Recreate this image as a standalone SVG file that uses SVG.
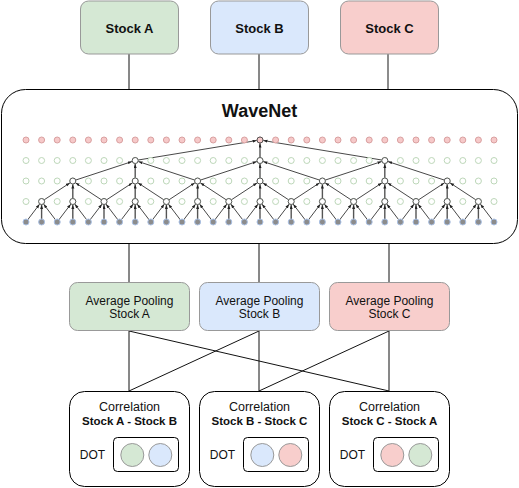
<svg xmlns="http://www.w3.org/2000/svg" xmlns:xlink="http://www.w3.org/1999/xlink" width="519" height="488" viewBox="0 0 519 488">
<style>
text{font-family:"Liberation Sans",Arial,Helvetica,sans-serif;fill:#111;text-anchor:middle}
.b{font-weight:bold}
.box{stroke:#999;stroke-width:1}
.ga{fill:#d5e8d4}.gb{fill:#dae8fc}.gc{fill:#f8cecc}
.frame{fill:#fff;stroke:#000;stroke-width:1}
.conn line{stroke:#111;stroke-width:1}
.e line{stroke:#333;stroke-width:0.9;marker-end:url(#ah)}
.e line.v{stroke:#555;stroke-width:1.4}
.inp{fill:#8c8c8c;stroke:#a9c0e4;stroke-width:1}
.hid{fill:#fff;stroke:#bdd7b9;stroke-width:1}
.out{fill:#f6c9c9;stroke:#d9a0a0;stroke-width:1}
.hl{fill:#fff;stroke:#555;stroke-width:1}
.dc{stroke:#999;stroke-width:1}
</style>
<defs>
<marker id="ah" markerUnits="userSpaceOnUse" markerWidth="8" markerHeight="4" refX="7.5" refY="1.5" orient="auto">
<path d="M0,0 L4,1.5 L0,3 z" fill="#222"/>
</marker>
<g id="row">
<circle cx="26" cy="0" r="3"/><circle cx="41.6" cy="0" r="3"/><circle cx="57.2" cy="0" r="3"/><circle cx="72.8" cy="0" r="3"/><circle cx="88.4" cy="0" r="3"/><circle cx="104" cy="0" r="3"/><circle cx="119.6" cy="0" r="3"/><circle cx="135.2" cy="0" r="3"/><circle cx="150.8" cy="0" r="3"/><circle cx="166.4" cy="0" r="3"/><circle cx="182" cy="0" r="3"/><circle cx="197.6" cy="0" r="3"/><circle cx="213.2" cy="0" r="3"/><circle cx="228.8" cy="0" r="3"/><circle cx="244.4" cy="0" r="3"/><circle cx="260" cy="0" r="3"/><circle cx="275.6" cy="0" r="3"/><circle cx="291.2" cy="0" r="3"/><circle cx="306.8" cy="0" r="3"/><circle cx="322.4" cy="0" r="3"/><circle cx="338" cy="0" r="3"/><circle cx="353.6" cy="0" r="3"/><circle cx="369.2" cy="0" r="3"/><circle cx="384.8" cy="0" r="3"/><circle cx="400.4" cy="0" r="3"/><circle cx="416" cy="0" r="3"/><circle cx="431.6" cy="0" r="3"/><circle cx="447.2" cy="0" r="3"/><circle cx="462.8" cy="0" r="3"/><circle cx="478.4" cy="0" r="3"/><circle cx="494" cy="0" r="3"/>
</g>
</defs>

<g id="connectors" class="conn">
<line x1="129" y1="54" x2="129" y2="89"/>
<line x1="259" y1="54" x2="259" y2="89"/>
<line x1="388" y1="54" x2="388" y2="89" style="stroke:#666;stroke-width:1.5"/>
<line x1="129" y1="244" x2="129" y2="282"/>
<line x1="259" y1="244" x2="259" y2="282"/>
<line x1="389" y1="244" x2="389" y2="282"/>
<line x1="129" y1="331" x2="129" y2="391"/>
<line x1="259" y1="331" x2="259" y2="391"/>
<line x1="389" y1="331" x2="389" y2="391"/>
<line x1="129" y1="331" x2="389" y2="391"/>
<line x1="259" y1="331" x2="129" y2="391"/>
<line x1="389" y1="331" x2="259" y2="391"/>
</g>

<g id="stock-a"><rect class="box ga" x="80.5" y="1" width="98" height="53" rx="8"/><text class="b" x="129.5" y="33" font-size="13">Stock A</text></g>
<g id="stock-b"><rect class="box gb" x="210.5" y="1" width="98" height="53" rx="8"/><text class="b" x="259.5" y="33" font-size="13">Stock B</text></g>
<g id="stock-c"><rect class="box gc" x="340.5" y="1" width="98" height="53" rx="8"/><text class="b" x="389.5" y="33" font-size="13">Stock C</text></g>

<g id="wavenet">
<rect class="frame" x="1.5" y="89.5" width="516" height="154" rx="24"/>
<text class="b" x="259.5" y="116.5" font-size="18">WaveNet</text>
<g class="e">
<line x1="26" y1="222" x2="41.6" y2="201.5"/><line class="v" x1="41.6" y1="222" x2="41.6" y2="201.5"/><line x1="57.2" y1="222" x2="41.6" y2="201.5"/>
<line x1="57.2" y1="222" x2="72.8" y2="201.5"/><line class="v" x1="72.8" y1="222" x2="72.8" y2="201.5"/><line x1="88.4" y1="222" x2="72.8" y2="201.5"/>
<line x1="88.4" y1="222" x2="104" y2="201.5"/><line class="v" x1="104" y1="222" x2="104" y2="201.5"/><line x1="119.6" y1="222" x2="104" y2="201.5"/>
<line x1="119.6" y1="222" x2="135.2" y2="201.5"/><line class="v" x1="135.2" y1="222" x2="135.2" y2="201.5"/><line x1="150.8" y1="222" x2="135.2" y2="201.5"/>
<line x1="150.8" y1="222" x2="166.4" y2="201.5"/><line class="v" x1="166.4" y1="222" x2="166.4" y2="201.5"/><line x1="182" y1="222" x2="166.4" y2="201.5"/>
<line x1="182" y1="222" x2="197.6" y2="201.5"/><line class="v" x1="197.6" y1="222" x2="197.6" y2="201.5"/><line x1="213.2" y1="222" x2="197.6" y2="201.5"/>
<line x1="213.2" y1="222" x2="228.8" y2="201.5"/><line class="v" x1="228.8" y1="222" x2="228.8" y2="201.5"/><line x1="244.4" y1="222" x2="228.8" y2="201.5"/>
<line x1="244.4" y1="222" x2="260" y2="201.5"/><line class="v" x1="260" y1="222" x2="260" y2="201.5"/><line x1="275.6" y1="222" x2="260" y2="201.5"/>
<line x1="275.6" y1="222" x2="291.2" y2="201.5"/><line class="v" x1="291.2" y1="222" x2="291.2" y2="201.5"/><line x1="306.8" y1="222" x2="291.2" y2="201.5"/>
<line x1="306.8" y1="222" x2="322.4" y2="201.5"/><line class="v" x1="322.4" y1="222" x2="322.4" y2="201.5"/><line x1="338" y1="222" x2="322.4" y2="201.5"/>
<line x1="338" y1="222" x2="353.6" y2="201.5"/><line class="v" x1="353.6" y1="222" x2="353.6" y2="201.5"/><line x1="369.2" y1="222" x2="353.6" y2="201.5"/>
<line x1="369.2" y1="222" x2="384.8" y2="201.5"/><line class="v" x1="384.8" y1="222" x2="384.8" y2="201.5"/><line x1="400.4" y1="222" x2="384.8" y2="201.5"/>
<line x1="400.4" y1="222" x2="416" y2="201.5"/><line class="v" x1="416" y1="222" x2="416" y2="201.5"/><line x1="431.6" y1="222" x2="416" y2="201.5"/>
<line x1="431.6" y1="222" x2="447.2" y2="201.5"/><line class="v" x1="447.2" y1="222" x2="447.2" y2="201.5"/><line x1="462.8" y1="222" x2="447.2" y2="201.5"/>
<line x1="462.8" y1="222" x2="478.4" y2="201.5"/><line class="v" x1="478.4" y1="222" x2="478.4" y2="201.5"/><line x1="494" y1="222" x2="478.4" y2="201.5"/>

<line x1="41.6" y1="201.5" x2="72.8" y2="181"/><line class="v" x1="72.8" y1="201.5" x2="72.8" y2="181"/><line x1="104" y1="201.5" x2="72.8" y2="181"/>
<line x1="104" y1="201.5" x2="135.2" y2="181"/><line class="v" x1="135.2" y1="201.5" x2="135.2" y2="181"/><line x1="166.4" y1="201.5" x2="135.2" y2="181"/>
<line x1="166.4" y1="201.5" x2="197.6" y2="181"/><line class="v" x1="197.6" y1="201.5" x2="197.6" y2="181"/><line x1="228.8" y1="201.5" x2="197.6" y2="181"/>
<line x1="228.8" y1="201.5" x2="260" y2="181"/><line class="v" x1="260" y1="201.5" x2="260" y2="181"/><line x1="291.2" y1="201.5" x2="260" y2="181"/>
<line x1="291.2" y1="201.5" x2="322.4" y2="181"/><line class="v" x1="322.4" y1="201.5" x2="322.4" y2="181"/><line x1="353.6" y1="201.5" x2="322.4" y2="181"/>
<line x1="353.6" y1="201.5" x2="384.8" y2="181"/><line class="v" x1="384.8" y1="201.5" x2="384.8" y2="181"/><line x1="416" y1="201.5" x2="384.8" y2="181"/>
<line x1="416" y1="201.5" x2="447.2" y2="181"/><line class="v" x1="447.2" y1="201.5" x2="447.2" y2="181"/><line x1="478.4" y1="201.5" x2="447.2" y2="181"/>

<line x1="72.8" y1="181" x2="135.2" y2="160.5"/><line class="v" x1="135.2" y1="181" x2="135.2" y2="160.5"/><line x1="197.6" y1="181" x2="135.2" y2="160.5"/>
<line x1="197.6" y1="181" x2="260" y2="160.5"/><line class="v" x1="260" y1="181" x2="260" y2="160.5"/><line x1="322.4" y1="181" x2="260" y2="160.5"/>
<line x1="322.4" y1="181" x2="384.8" y2="160.5"/><line class="v" x1="384.8" y1="181" x2="384.8" y2="160.5"/><line x1="447.2" y1="181" x2="384.8" y2="160.5"/>

<line x1="135.2" y1="160.5" x2="260" y2="140"/><line class="v" x1="260" y1="160.5" x2="260" y2="140"/><line x1="384.8" y1="160.5" x2="260" y2="140"/>
</g>
<use xlink:href="#row" y="222" class="inp"/>
<use xlink:href="#row" y="201.5" class="hid"/>
<use xlink:href="#row" y="181" class="hid"/>
<use xlink:href="#row" y="160.5" class="hid"/>
<use xlink:href="#row" y="140" class="out"/>
<g class="hl">
<circle cx="41.6" cy="201.5" r="3"/><circle cx="72.8" cy="201.5" r="3"/><circle cx="104" cy="201.5" r="3"/><circle cx="135.2" cy="201.5" r="3"/><circle cx="166.4" cy="201.5" r="3"/><circle cx="197.6" cy="201.5" r="3"/><circle cx="228.8" cy="201.5" r="3"/><circle cx="260" cy="201.5" r="3"/><circle cx="291.2" cy="201.5" r="3"/><circle cx="322.4" cy="201.5" r="3"/><circle cx="353.6" cy="201.5" r="3"/><circle cx="384.8" cy="201.5" r="3"/><circle cx="416" cy="201.5" r="3"/><circle cx="447.2" cy="201.5" r="3"/><circle cx="478.4" cy="201.5" r="3"/>
<circle cx="72.8" cy="181" r="3"/><circle cx="135.2" cy="181" r="3"/><circle cx="197.6" cy="181" r="3"/><circle cx="260" cy="181" r="3"/><circle cx="322.4" cy="181" r="3"/><circle cx="384.8" cy="181" r="3"/><circle cx="447.2" cy="181" r="3"/>
<circle cx="135.2" cy="160.5" r="3"/><circle cx="260" cy="160.5" r="3"/><circle cx="384.8" cy="160.5" r="3"/>
<circle cx="260" cy="140" r="3" style="fill:#f6c9c9"/>
</g>
</g>

<g id="pool-a"><rect class="box ga" x="69.5" y="282.5" width="120" height="48" rx="8"/><text x="129.5" y="304.5" font-size="12">Average Pooling</text><text x="129.5" y="318" font-size="12">Stock A</text></g>
<g id="pool-b"><rect class="box gb" x="199.5" y="282.5" width="120" height="48" rx="8"/><text x="259.5" y="304.5" font-size="12">Average Pooling</text><text x="259.5" y="318" font-size="12">Stock B</text></g>
<g id="pool-c"><rect class="box gc" x="329.5" y="282.5" width="120" height="48" rx="8"/><text x="389.5" y="304.5" font-size="12">Average Pooling</text><text x="389.5" y="318" font-size="12">Stock C</text></g>

<g id="corr-ab">
<rect class="frame" x="69.5" y="391.5" width="120" height="95" rx="15"/>
<text x="129.5" y="411" font-size="12.5">Correlation</text>
<text class="b" x="129.5" y="424.5" font-size="11.5">Stock A - Stock B</text>
<text x="92.5" y="459" font-size="12">DOT</text>
<rect class="frame" x="113.5" y="437.5" width="65" height="34" rx="4"/>
<circle class="dc ga" cx="132.3" cy="455" r="11.5"/>
<circle class="dc gb" cx="160.3" cy="455" r="11.5"/>
</g>
<g id="corr-bc">
<rect class="frame" x="199.5" y="391.5" width="120" height="95" rx="15"/>
<text x="259.5" y="411" font-size="12.5">Correlation</text>
<text class="b" x="259.5" y="424.5" font-size="11.5">Stock B - Stock C</text>
<text x="222.5" y="459" font-size="12">DOT</text>
<rect class="frame" x="243.5" y="437.5" width="65" height="34" rx="4"/>
<circle class="dc gb" cx="262.3" cy="455" r="11.5"/>
<circle class="dc gc" cx="290.3" cy="455" r="11.5"/>
</g>
<g id="corr-ca">
<rect class="frame" x="329.5" y="391.5" width="120" height="95" rx="15"/>
<text x="389.5" y="411" font-size="12.5">Correlation</text>
<text class="b" x="389.5" y="424.5" font-size="11.5">Stock C - Stock A</text>
<text x="352.5" y="459" font-size="12">DOT</text>
<rect class="frame" x="373.5" y="437.5" width="65" height="34" rx="4"/>
<circle class="dc gc" cx="392.3" cy="455" r="11.5"/>
<circle class="dc ga" cx="420.3" cy="455" r="11.5"/>
</g>
</svg>
